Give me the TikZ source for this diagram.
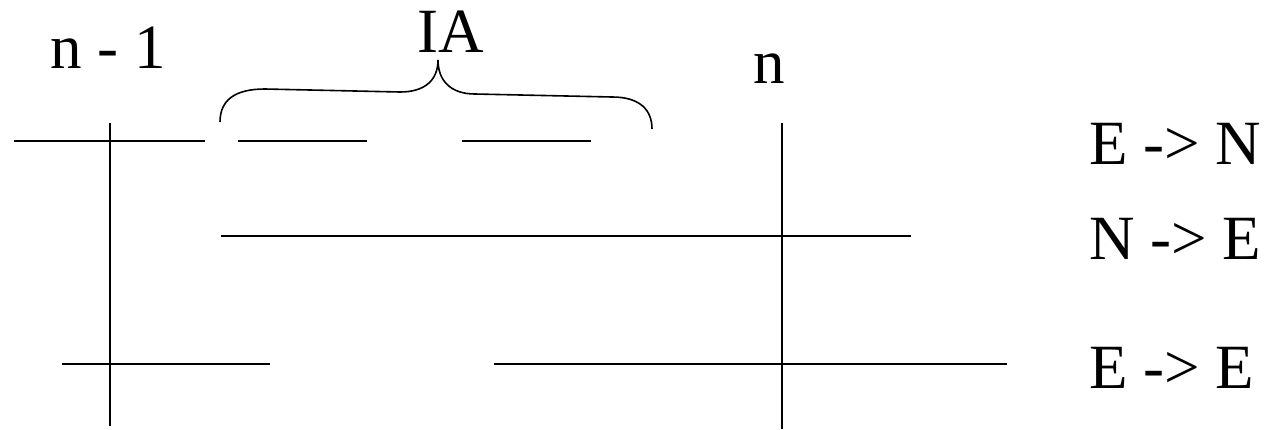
\documentclass[tikz,border=0pt]{standalone}
\usepackage{fontspec}
\setmainfont{Liberation Serif}
\begin{document}
\begin{tikzpicture}[x=1pt,y=-1pt,
  ln/.style={line width=2pt},
  lbl/.style={inner sep=0pt,anchor=base west,font=\fontsize{63}{70}\selectfont}]
\useasboundingbox (0,0) rectangle (1268,429);
% labels
\node[lbl] (nm1) at (50,68) {n - 1};
\node[lbl] (ia) at (417,52) {IA};
\node[lbl] (n) at (753,83) {n};
\node[lbl] (en) at (1089,164) {E -> N};
\node[lbl] (ne) at (1089,259) {N -> E};
\node[lbl] (ee) at (1089,388) {E -> E};
% vertical time marks
\draw[ln] (110,123) -- (110,426);
\draw[ln] (782,123) -- (782,429);
% E -> N row
\draw[ln] (14,141) -- (205,141);
\draw[ln] (238,141) -- (367,141);
\draw[ln] (462,141) -- (591,141);
% N -> E row
\draw[ln] (221,236) -- (911,236);
% E -> E row
\draw[ln] (62,364) -- (270,364);
\draw[ln] (494,364) -- (1007,364);
% brace
\draw[line width=1.6pt] (220,122) .. controls (220,100) and (235,89) .. (265,89)
  -- (400,92) .. controls (425,92) and (438,80) .. (438,60)
  .. controls (438,80) and (450,94) .. (475,94)
  -- (612,97) .. controls (640,97) and (652,110) .. (652,129);
\end{tikzpicture}
\end{document}
